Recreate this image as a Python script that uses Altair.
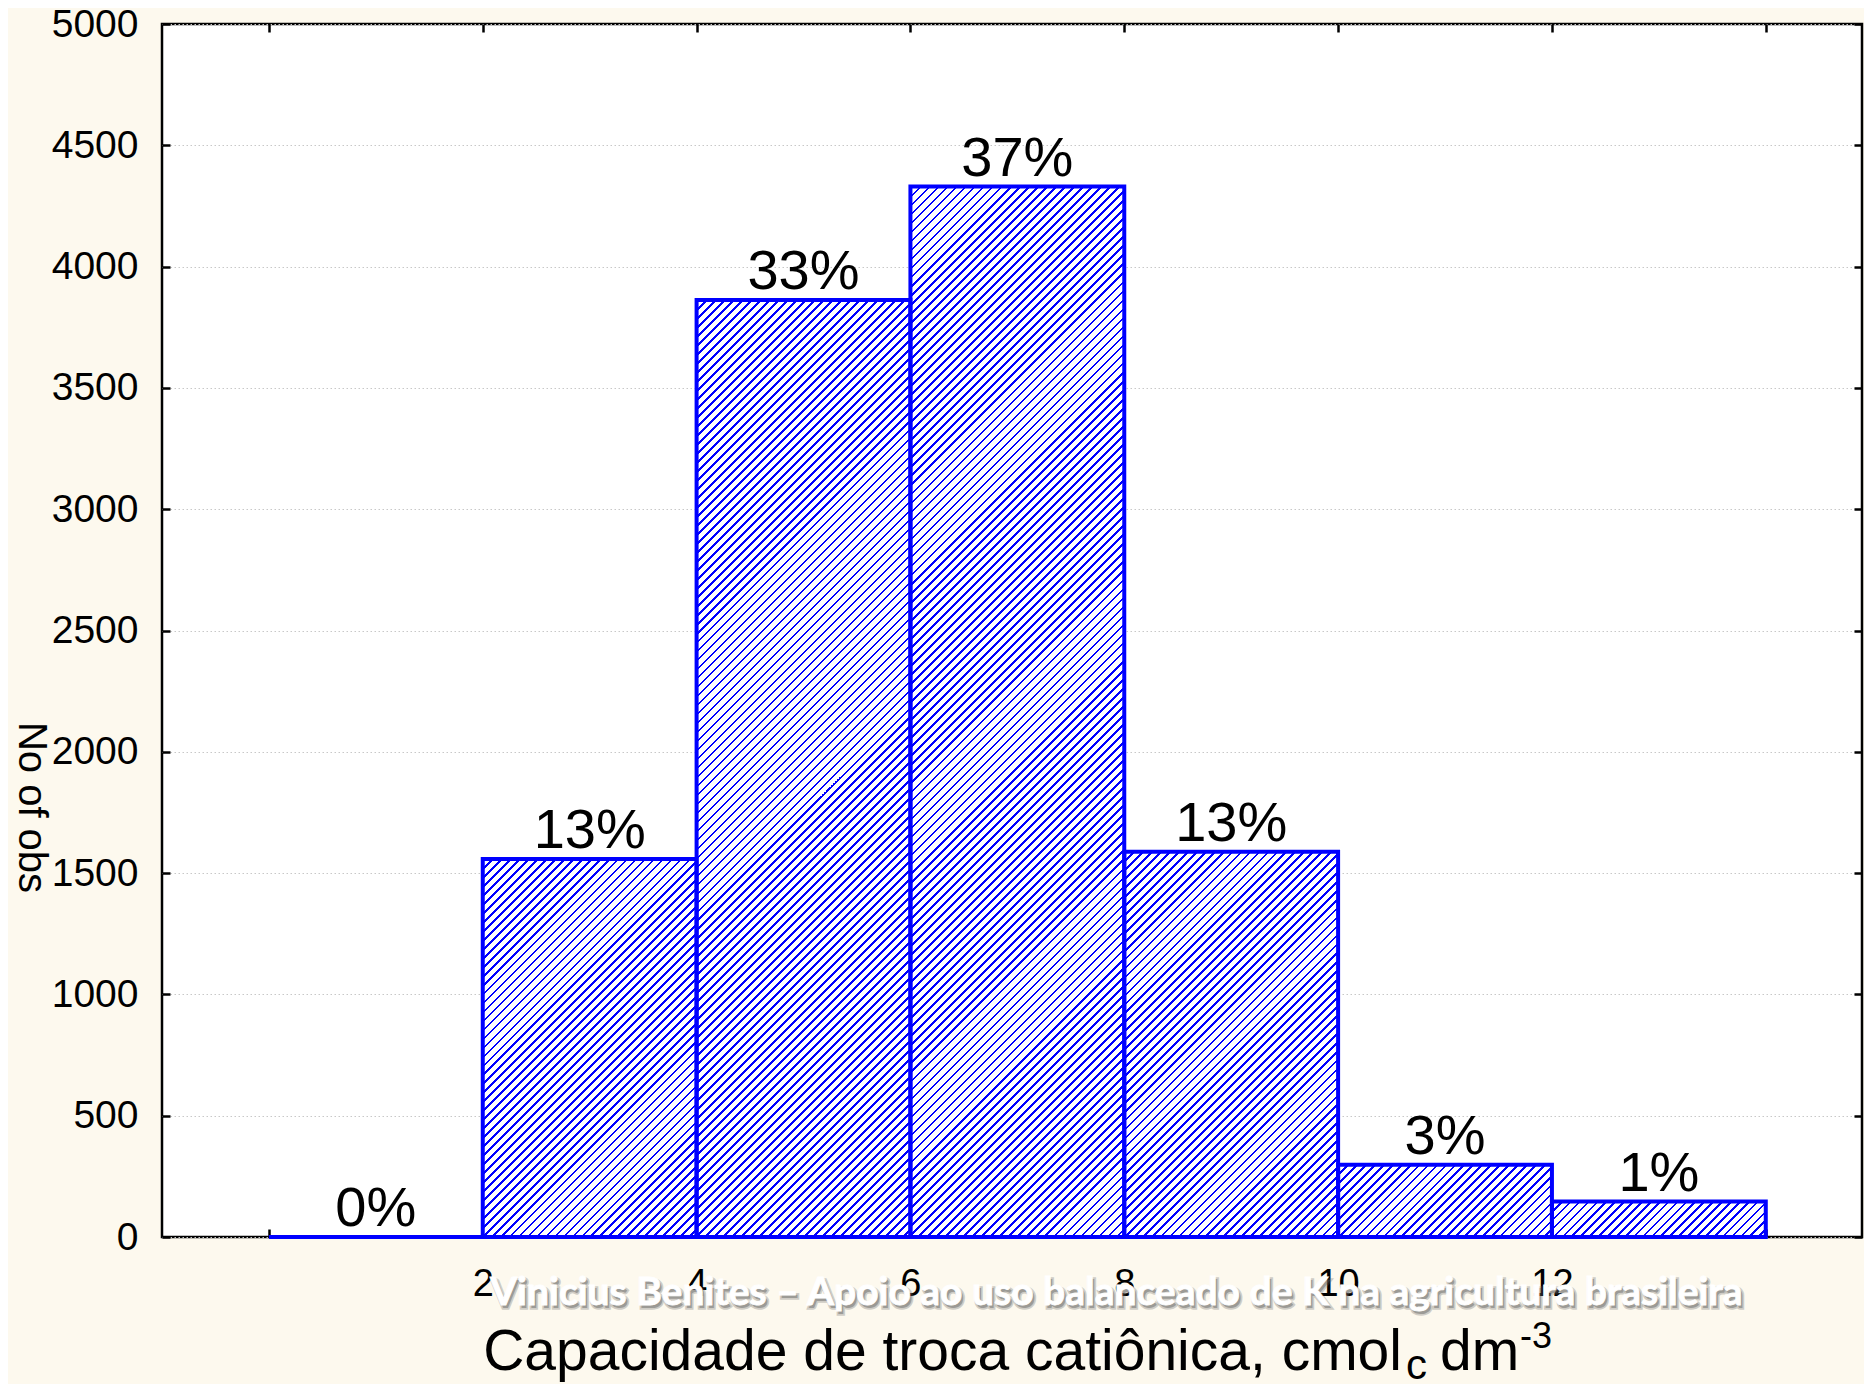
import altair as alt
import pandas as pd

# ---------------- data ----------------
bin_start = [0, 2, 4, 6, 8, 10, 12]
bin_end = [2, 4, 6, 8, 10, 12, 14]
counts = [0, 1558, 3862, 4330, 1588, 298, 146]
pct_labels = ["0%", "13%", "33%", "37%", "13%", "3%", "1%"]

x_label_values = [2, 4, 6, 8, 10, 12]
x_tick_values = [0, 2, 4, 6, 8, 10, 12, 14]
y_tick_values = [0, 500, 1000, 1500, 2000, 2500, 3000, 3500, 4000, 4500, 5000]

y_title = "No of obs"
x_title_main = "Capacidade de troca catiônica, cmol"
x_title_sub = "c"
x_title_unit = "dm"
x_title_sup = "-3"
watermark = "Vinicius Benites – Apoio ao uso balanceado de K na agricultura brasileira"

# ---------------- styling ----------------
W, H = 1700, 1213
X_DOMAIN = [-1, 14.9]
Y_DOMAIN = [0, 5000]
BLUE = "#0000FF"
BG = "#FDF9EE"
FONT = "Liberation Sans"

df = pd.DataFrame({"start": bin_start, "end": bin_end, "count": counts, "label": pct_labels})
df["mid"] = (df["start"] + df["end"]) / 2

xs = alt.Scale(domain=X_DOMAIN, nice=False, zero=False)
ys = alt.Scale(domain=Y_DOMAIN, nice=False)


def hatch(w, h, period=9.0, frac=0.3):
    """Diagonal '/' hatch as a striped linear gradient (bounding-box units)."""
    n = max(1, round((w + h) / period))
    k = (w + h) / (w * w + h * h)
    stops = []
    for i in range(n):
        a = round(i / n, 6)
        b = round((i + frac) / n, 6)
        c = round((i + 1) / n, 6)
        stops += [
            {"offset": a, "color": BLUE},
            {"offset": b, "color": BLUE},
            {"offset": b, "color": "white"},
            {"offset": c, "color": "white"},
        ]
    return {"gradient": "linear", "x1": 0, "y1": 0,
            "x2": round(w * k, 6), "y2": round(h * k, 6), "stops": stops}


def tick_axis(orient, offset, values):
    return alt.Axis(orient=orient, offset=offset, values=values, labels=False,
                    ticks=True, tickSize=8, tickWidth=2.5, tickColor="black",
                    domain=False, grid=False, title=None)


layers = []

# hatched fills, one layer per bar
px_per_x = W / (X_DOMAIN[1] - X_DOMAIN[0])
px_per_y = H / (Y_DOMAIN[1] - Y_DOMAIN[0])
for s, e, c in zip(bin_start, bin_end, counts):
    if c <= 0:
        continue
    w = (e - s) * px_per_x
    h = c * px_per_y
    layers.append(
        alt.Chart(df).transform_filter(alt.datum.start == s)
        .mark_rect(fill=hatch(w, h), strokeWidth=0)
        .encode(x=alt.X("start:Q", scale=xs, axis=None),
                x2="end:Q",
                y=alt.Y("count:Q", scale=ys, axis=None),
                y2=alt.datum(0))
    )

# outlines + labelled axes
outline = alt.Chart(df).mark_rect(fillOpacity=0, stroke=BLUE, strokeWidth=4).encode(
    x=alt.X("start:Q", scale=xs,
            axis=alt.Axis(orient="bottom", values=x_label_values, labelFontSize=38,
                          labelPadding=28, labelBaseline="top", ticks=False, tickSize=0,
                          domain=False, grid=False, title=None, labelColor="black",
                          labelFont=FONT, format="d")),
    x2="end:Q",
    y=alt.Y("count:Q", scale=ys,
            axis=alt.Axis(orient="left", values=y_tick_values, labelFontSize=39,
                          labelPadding=24, ticks=False, tickSize=0, domain=False,
                          format="d",
                          grid=True, gridColor="#c8c8c8", gridDash=[1.5, 2.5],
                          gridWidth=1, labelColor="black", labelFont=FONT,
                          title=y_title, titleAngle=90, titleX=-132, titleY=783,
                          titleAlign="center", titleBaseline="middle",
                          titleFontSize=40, titleFontWeight="normal",
                          titleFont=FONT, titleColor="black")),
    y2=alt.datum(0),
)
layers.append(outline)

# percentage labels (+ inward ticks at bottom and left)
labels = alt.Chart(df).mark_text(font=FONT, fontSize=56, baseline="alphabetic",
                                 dy=-11, color="black").encode(
    x=alt.X("mid:Q", scale=xs, axis=tick_axis("top", -H, x_tick_values)),
    y=alt.Y("count:Q", scale=ys, axis=tick_axis("right", -W, y_tick_values)),
    text="label:N",
)
layers.append(labels)

# invisible layer carrying inward ticks at top and right
ghost = alt.Chart(df).mark_point(opacity=0).encode(
    x=alt.X("mid:Q", scale=xs, axis=tick_axis("bottom", -H, x_tick_values)),
    y=alt.Y("count:Q", scale=ys, axis=tick_axis("left", -W, y_tick_values)),
)
layers.append(ghost)


def text_part(txt, x, y, size, color="black", **kw):
    return alt.Chart(pd.DataFrame({"t": [txt]})).mark_text(
        font=kw.pop("font", FONT), fontSize=size, baseline="alphabetic",
        color=color, **kw).encode(x=alt.value(x), y=alt.value(y), text="t:N")


# x-axis title with subscript / superscript
layers.append(text_part(x_title_main, 1240, 1346, 57, align="right"))
layers.append(text_part(x_title_sub, 1244, 1355, 42, align="left"))
layers.append(text_part(x_title_unit, 1278, 1346, 57, align="left"))
layers.append(text_part(x_title_sup, 1358, 1324, 36, align="left"))

# watermark (shadow + white text)
WM_FONT = "Lato"
layers.append(text_part(watermark, 330, 1284, 39, color="#555555", align="left",
                        font=WM_FONT, fontWeight="bold", opacity=0.6,
                        stroke="#666666", strokeWidth=3.5, strokeOpacity=0.5))
layers.append(text_part(watermark, 328, 1281, 39, color="white", align="left",
                        font=WM_FONT, fontWeight="bold", stroke="white",
                        strokeWidth=0.8))

chart = alt.layer(*layers).resolve_axis(x="independent", y="independent").properties(
    width=W, height=H,
    autosize=alt.AutoSizeParams(type="none"),
    padding={"left": 154, "top": 16, "right": 2, "bottom": 147},
).configure(background=BG).configure_view(fill="white", stroke="black", strokeWidth=2.5)

chart.save("out.html", embed_options={"renderer": "svg", "actions": False})
